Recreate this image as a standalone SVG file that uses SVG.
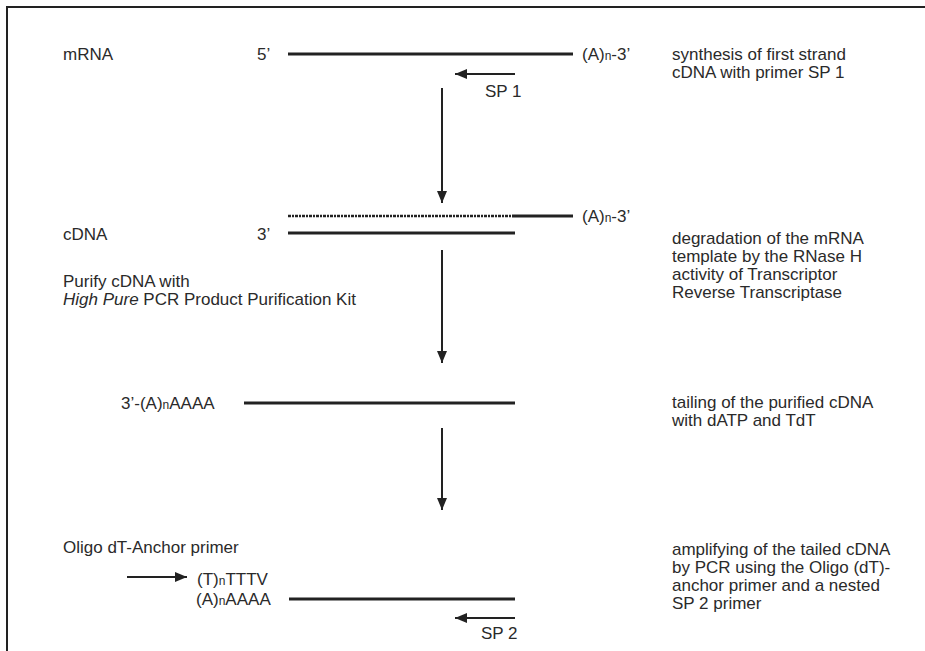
<svg xmlns="http://www.w3.org/2000/svg" width="925" height="651" viewBox="0 0 925 651">
<defs>
<style>
text{font-family:"Liberation Sans",Arial,sans-serif;font-size:17px;fill:#2a2a2a}
.sub{font-size:12px}
.strand{stroke:#222;stroke-width:3;fill:none}
.dash{stroke:#222;stroke-width:2.5;stroke-dasharray:3 1 2 1;fill:none}
.arr{stroke:#222;stroke-width:2;fill:none}
</style>
<marker id="ah" viewBox="0 0 12 10" refX="12" refY="5" markerWidth="12" markerHeight="10" markerUnits="userSpaceOnUse" orient="auto">
<path d="M0,0 L12,5 L0,10 Z" fill="#222"/>
</marker>
</defs>
<rect width="925" height="651" fill="#fff"/>
<path d="M7,651 V7 H925" fill="none" stroke="#222" stroke-width="2"/>

<g id="step1">
<text x="63" y="60">mRNA</text>
<text x="257" y="60">5’</text>
<line class="strand" x1="288" y1="54" x2="573" y2="54"/>
<text x="582" y="60">(A)<tspan class="sub">n</tspan>-3’</text>
<text x="485" y="97">SP 1</text>
<text x="672" y="60">synthesis of first strand</text>
<text x="672" y="78">cDNA with primer SP 1</text>
</g>

<g id="step2">
<text x="63" y="240">cDNA</text>
<text x="257" y="240">3’</text>
<line class="dash" x1="288" y1="216" x2="512" y2="216"/>
<line class="strand" x1="512" y1="216" x2="573" y2="216"/>
<text x="582" y="222">(A)<tspan class="sub">n</tspan>-3’</text>
<line class="strand" x1="288" y1="233" x2="515" y2="233"/>
<text x="63" y="287">Purify cDNA with</text>
<text x="63" y="305"><tspan font-style="italic">High Pure</tspan> PCR Product Purification Kit</text>
<text x="672" y="244">degradation of the mRNA</text>
<text x="672" y="262">template by the RNase H</text>
<text x="672" y="280">activity of Transcriptor</text>
<text x="672" y="298">Reverse Transcriptase</text>
</g>

<g id="step3">
<text x="121" y="409">3’-(A)<tspan class="sub">n</tspan>AAAA</text>
<line class="strand" x1="244" y1="403" x2="515" y2="403"/>
<text x="672" y="408">tailing of the purified cDNA</text>
<text x="672" y="426">with dATP and TdT</text>
</g>

<g id="step4">
<text x="63" y="553">Oligo dT-Anchor primer</text>
<text x="197" y="585">(T)<tspan class="sub">n</tspan>TTTV</text>
<text x="196" y="605">(A)<tspan class="sub">n</tspan>AAAA</text>
<line class="strand" x1="289" y1="599" x2="515" y2="599"/>
<text x="481" y="639">SP 2</text>
<text x="672" y="555">amplifying of the tailed cDNA</text>
<text x="672" y="573">by PCR using the Oligo (dT)-</text>
<text x="672" y="591">anchor primer and a nested</text>
<text x="672" y="609">SP 2 primer</text>
</g>

<g id="connectors">
<line class="arr" x1="515" y1="74" x2="455" y2="74" marker-end="url(#ah)" stroke-width="3"/>
<line class="arr" x1="442" y1="88" x2="442" y2="203" marker-end="url(#ah)"/>
<line class="arr" x1="442" y1="250" x2="442" y2="363" marker-end="url(#ah)"/>
<line class="arr" x1="442" y1="428" x2="442" y2="510" marker-end="url(#ah)"/>
<line class="arr" x1="127" y1="577" x2="187" y2="577" marker-end="url(#ah)" stroke-width="3"/>
<line class="arr" x1="515" y1="618" x2="455" y2="618" marker-end="url(#ah)" stroke-width="3"/>
</g>
</svg>
